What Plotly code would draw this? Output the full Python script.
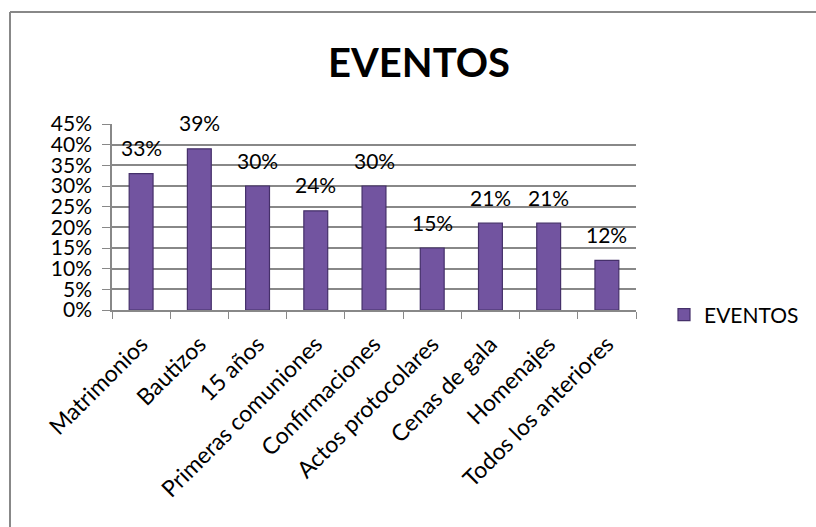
import plotly.graph_objects as go

categories = ["Matrimonios", "Bautizos", "15 años", "Primeras comuniones", "Confirmaciones",
              "Actos protocolares", "Cenas de gala", "Homenajes", "Todos los anteriores"]
values = [0.33, 0.39, 0.30, 0.24, 0.30, 0.15, 0.21, 0.21, 0.12]
labels = ["33%", "39%", "30%", "24%", "30%", "15%", "21%", "21%", "12%"]
y_ticks = [0, 0.05, 0.10, 0.15, 0.20, 0.25, 0.30, 0.35, 0.40, 0.45]
y_tick_text = ["0%", "5%", "10%", "15%", "20%", "25%", "30%", "35%", "40%", "45%"]

W, H = 816, 527
L, R, T, B = 112, 180, 124, 217
pw, ph = W - L - R, H - T - B

def px_x(p):
    return (p - L) / pw

def px_y(p):
    return (H - B - p) / ph

FONT = "Lato, Calibri, Arial, sans-serif"

fig = go.Figure()
fig.add_trace(go.Bar(
    x=categories, y=values, name="EVENTOS",
    marker=dict(color="#7254a0", line=dict(color="#45306a", width=1.2)),
    showlegend=True,
))

for c, v, t in zip(categories, values, labels):
    fig.add_annotation(x=c, y=v, text=t, showarrow=False, yshift=26,
                       font=dict(family=FONT, size=21, color="#000"))

shapes = [
    dict(type="line", xref="paper", yref="paper", x0=px_x(10), x1=px_x(W + 5),
         y0=px_y(12), y1=px_y(12), line=dict(color="#888888", width=2)),
    dict(type="line", xref="paper", yref="paper", x0=px_x(10), x1=px_x(10),
         y0=px_y(12), y1=px_y(H + 5), line=dict(color="#888888", width=2)),
]

fig.update_layout(
    width=W, height=H,
    margin=dict(l=L, r=R, t=T, b=B, autoexpand=False),
    paper_bgcolor="white", plot_bgcolor="white",
    title=dict(text="<b>EVENTOS</b>", x=419 / W, xanchor="center",
               y=1 - 63 / H, yanchor="middle",
               font=dict(family=FONT, size=40, color="#000")),
    bargap=0.59,
    font=dict(family=FONT, size=20, color="#000"),
    xaxis=dict(tickangle=-45, showline=True, linecolor="#888888", linewidth=1.5,
               ticks="outside", ticklen=7, tickcolor="#888888",
               tickfont=dict(family=FONT, size=23), showgrid=False,
               tickson="boundaries", ticklabelstandoff=10),
    yaxis=dict(range=[0, 0.45], tickvals=y_ticks, ticktext=y_tick_text,
               showgrid=True, gridcolor="#888888", gridwidth=1.5,
               showline=True, linecolor="#888888", linewidth=1.5,
               ticks="outside", ticklen=8,
               tickcolor="#888888", tickfont=dict(family=FONT, size=21),
               ticklabelstandoff=6),
    legend=dict(x=px_x(664), y=px_y(315), xanchor="left", yanchor="middle",
                font=dict(family=FONT, size=21), itemwidth=30),
    shapes=shapes,
)

fig.write_html("out.html", post_script="document.body.style.margin='0';",
               config={"displayModeBar": False})
